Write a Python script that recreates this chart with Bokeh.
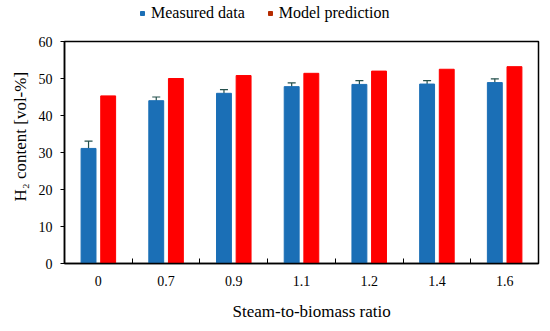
import numpy as np
from bokeh.plotting import figure
from bokeh.layouts import column
from bokeh.models import (ColumnDataSource, FixedTicker, Legend, LegendItem,
                          Whisker, TeeHead, Range1d, Title)
from bokeh.embed import file_html
from bokeh.resources import INLINE

categories = ["0", "0.7", "0.9", "1.1", "1.2", "1.4", "1.6"]
measured = [31.1, 44.0, 46.0, 47.8, 48.4, 48.5, 48.9]
measured_err = [2.0, 1.0, 1.0, 1.0, 1.0, 0.9, 1.0]
model = [45.3, 50.0, 50.8, 51.4, 52.0, 52.5, 53.2]
y_ticks = [0, 10, 20, 30, 40, 50, 60]
series_names = ["Measured data", "Model prediction"]
x_title = "Steam-to-biomass ratio"
y_title = "H\u2082 content [vol-%]"

FONT = "Liberation Serif"
BLUE = "#1b6fb6"
RED = "#ff0000"
DARKRED = "#b52b00"

pos = np.arange(len(categories)) + 0.5
offset = 0.145
width = 0.22

src = ColumnDataSource(dict(
    xm=pos - offset, xp=pos + offset,
    measured=measured, model=model,
    upper=np.array(measured) + np.array(measured_err),
    lower=np.array(measured) - np.array(measured_err),
))

W = 542

# ---------------- legend strip ----------------
lg = figure(width=W, height=30, output_backend="svg", toolbar_location=None,
            x_range=Range1d(0, 1), y_range=Range1d(0, 1),
            min_border=0, min_border_left=0, min_border_right=0,
            min_border_top=0, min_border_bottom=0)
lg.axis.visible = False
lg.grid.visible = False
lg.outline_line_color = None
l1 = lg.scatter(x=[-10], y=[-10], marker="square", size=8, fill_color=BLUE, line_color=BLUE)
l2 = lg.scatter(x=[-10], y=[-10], marker="square", size=8, fill_color=DARKRED, line_color=DARKRED)
legend = Legend(items=[LegendItem(label=series_names[0], renderers=[l1]),
                       LegendItem(label=series_names[1], renderers=[l2])],
                orientation="horizontal", location=(73, 8),
                label_text_font=FONT, label_text_font_size="16px",
                label_text_color="black",
                glyph_width=10, glyph_height=10, spacing=20, padding=2,
                margin=0, border_line_color=None, background_fill_alpha=0,
                label_standoff=4)
lg.add_layout(legend)

# ---------------- main plot ----------------
p = figure(width=W, height=301, output_backend="svg", toolbar_location=None,
           x_range=Range1d(0, len(categories)), y_range=Range1d(0, 60),
           min_border_left=64, min_border_right=4, min_border_top=11,
           min_border_bottom=66)

p.xgrid.visible = False
p.ygrid.visible = False
p.outline_line_color = "black"
p.outline_line_width = 1.5
p.background_fill_color = "white"
p.border_fill_color = "white"

whisk = Whisker(source=src, base="xm", upper="upper", lower="lower",
                line_color="#24504c", line_width=1.2, level="underlay",
                upper_head=TeeHead(size=8, line_color="#24504c", line_width=1.2),
                lower_head=TeeHead(size=8, line_color="#24504c", line_width=1.2))
p.add_layout(whisk)

p.vbar(x="xm", top="measured", width=width, source=src,
       fill_color=BLUE, line_color=BLUE)
p.vbar(x="xp", top="model", width=width, source=src,
       fill_color=RED, line_color=RED)

# x axis
p.xaxis.ticker = FixedTicker(ticks=list(pos), minor_ticks=list(np.arange(1, len(categories))))
p.xaxis.major_label_overrides = {float(x): c for x, c in zip(pos, categories)}
p.xaxis.major_tick_line_color = None
p.xaxis.minor_tick_in = 5
p.xaxis.minor_tick_out = 0
p.xaxis.minor_tick_line_color = "black"

# y axis
p.yaxis.ticker = FixedTicker(ticks=y_ticks)
p.yaxis.minor_tick_line_color = None
p.yaxis.major_tick_in = 0
p.yaxis.major_tick_out = 4

for ax in (p.xaxis[0], p.yaxis[0]):
    ax.axis_line_color = "black"
    ax.axis_line_width = 1.5
    ax.major_label_text_font = FONT
    ax.major_label_text_font_size = "14px"
    ax.major_label_text_color = "black"

p.xaxis.major_label_standoff = 6
p.yaxis.major_label_standoff = 8

xt = Title(text=x_title, align="left", offset=168, standoff=22,
           text_font=FONT, text_font_size="17px", text_font_style="normal",
           text_color="black")
p.add_layout(xt, "below")
yt = Title(text=y_title, align="left", offset=62, standoff=11,
           text_font=FONT, text_font_size="17px", text_font_style="normal",
           text_color="black")
p.add_layout(yt, "left")

layout = column(lg, p, spacing=0)
open("out.html", "w").write(file_html(layout, INLINE))
